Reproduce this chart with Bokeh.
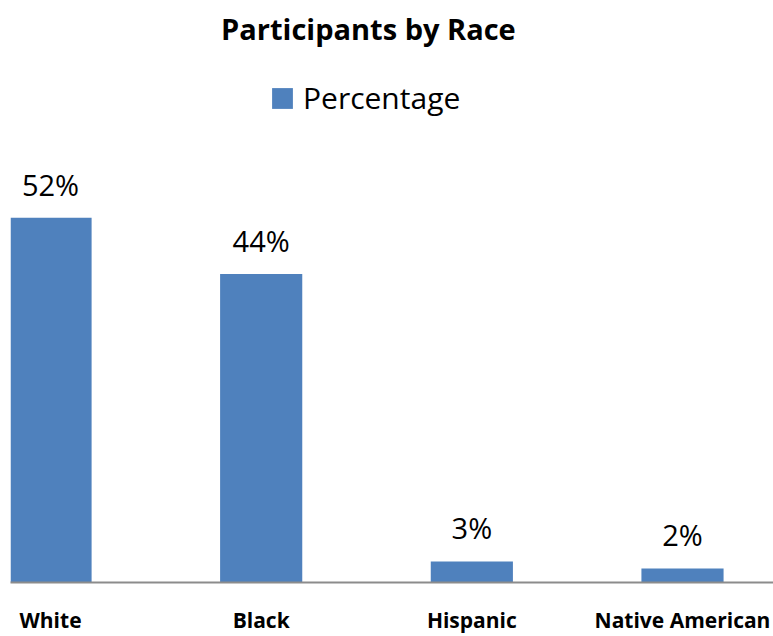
from bokeh.plotting import figure
from bokeh.models import (ColumnDataSource, Range1d, FixedTicker, LabelSet, Label,
                          Legend, LegendItem)
from bokeh.core.properties import value
from bokeh.embed import file_html
from bokeh.resources import INLINE

categories = ["White", "Black", "Hispanic", "Native American"]
percentages = [52, 44, 3, 2]
series_name = "Percentage"
title_text = "Participants by Race"

xs = list(range(len(categories)))
src = ColumnDataSource(dict(x=xs, y=percentages, lab=[f"{v}%" for v in percentages]))

p = figure(width=773, height=636, output_backend="svg", toolbar_location=None,
           x_range=Range1d(-0.19, 3.432), y_range=Range1d(0, 83),
           min_border_left=10, min_border_right=0, min_border_top=0, min_border_bottom=0)
p.outline_line_color = None
p.xgrid.visible = False
p.ygrid.visible = False
p.yaxis.visible = False
p.background_fill_color = "white"
p.border_fill_color = "white"

r = p.vbar(x="x", top="y", width=0.39, source=src, fill_color="#4f81bd", line_color=None)

ax = p.xaxis[0]
ax.ticker = FixedTicker(ticks=xs)
ax.major_label_overrides = {i: c for i, c in zip(xs, categories)}
ax.major_tick_line_color = None
ax.minor_tick_line_color = None
ax.axis_line_color = "#8c8c8c"
ax.axis_line_width = 2
ax.major_label_standoff = 17
ax.major_label_text_font = "Open Sans"
ax.major_label_text_font_style = "bold"
ax.major_label_text_font_size = "21px"
ax.major_label_text_color = "black"

labels = LabelSet(x="x", y="y", text="lab", source=src, y_offset=22,
                  text_align="center", text_baseline="alphabetic",
                  text_font=value("Open Sans"), text_font_size=value("29px"),
                  text_color="black")
p.add_layout(labels)

t = Label(x=1.509, y=79, text=title_text, text_align="center", text_baseline="middle",
          text_font="Open Sans", text_font_style="bold", text_font_size="29px",
          text_color="black")
p.add_layout(t)

leg = Legend(items=[LegendItem(label=series_name, renderers=[r])], location=(259, 464),
             glyph_width=26, glyph_height=26, label_height=26, label_standoff=8,
             padding=0, margin=0, border_line_color=None, background_fill_alpha=0,
             label_text_font="Open Sans", label_text_font_size="30px",
             label_text_color="black")
p.add_layout(leg)

open("out.html", "w").write(file_html(p, INLINE))
